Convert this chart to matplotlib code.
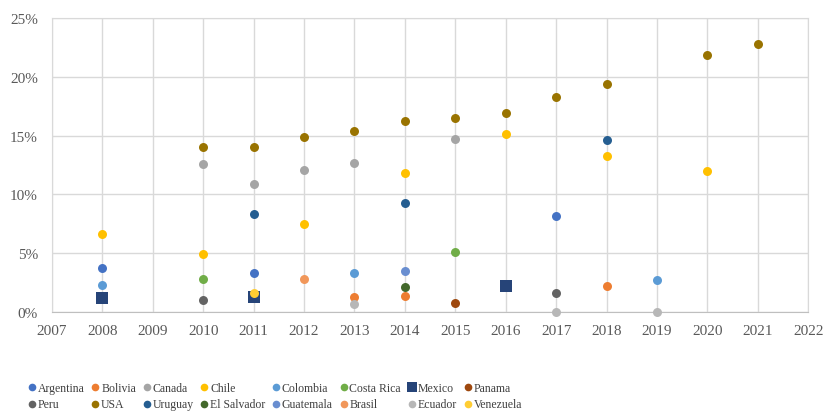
import numpy as np
import matplotlib.pyplot as plt
from matplotlib.ticker import FuncFormatter

plt.rcParams['font.family'] = ['Liberation Serif', 'DejaVu Serif']

# datos por pais: (años, porcentajes)
argentina_x = [2008, 2011, 2017]
argentina_y = [3.7, 3.3, 8.2]
bolivia_x = [2013, 2014, 2018]
bolivia_y = [1.3, 1.4, 2.2]
canada_x = [2010, 2011, 2012, 2013, 2015]
canada_y = [12.6, 10.9, 12.1, 12.7, 14.7]
chile_x = [2008, 2010, 2012, 2014, 2016, 2018, 2020]
chile_y = [6.6, 4.9, 7.45, 11.8, 15.1, 13.3, 12.0]
colombia_x = [2008, 2013, 2019]
colombia_y = [2.3, 3.3, 2.7]
costarica_x = [2010, 2015]
costarica_y = [2.8, 5.1]
mexico_x = [2008, 2011, 2016]
mexico_y = [1.2, 1.3, 2.2]
panama_x = [2015]
panama_y = [0.8]
peru_x = [2010, 2017]
peru_y = [1.0, 1.6]
usa_x = [2010, 2011, 2012, 2013, 2014, 2015, 2016, 2017, 2018, 2020, 2021]
usa_y = [14.0, 14.0, 14.85, 15.4, 16.25, 16.5, 16.9, 18.3, 19.4, 21.85, 22.8]
uruguay_x = [2011, 2014, 2018]
uruguay_y = [8.3, 9.3, 14.6]
salvador_x = [2014]
salvador_y = [2.1]
guatemala_x = [2014]
guatemala_y = [3.5]
brasil_x = [2012]
brasil_y = [2.8]
ecuador_x = [2013, 2017, 2019]
ecuador_y = [0.7, 0.0, 0.0]
venezuela_x = [2011]
venezuela_y = [1.6]

series = [
    ("Argentina", argentina_x, argentina_y, "#4472C4", "o"),
    ("Bolivia", bolivia_x, bolivia_y, "#ED7D31", "o"),
    ("Canada", canada_x, canada_y, "#A5A5A5", "o"),
    ("Chile", chile_x, chile_y, "#FFC000", "o"),
    ("Colombia", colombia_x, colombia_y, "#5B9BD5", "o"),
    ("Costa Rica", costarica_x, costarica_y, "#70AD47", "o"),
    ("Mexico", mexico_x, mexico_y, "#264478", "s"),
    ("Panama", panama_x, panama_y, "#9E480E", "o"),
    ("Peru", peru_x, peru_y, "#636363", "o"),
    ("USA", usa_x, usa_y, "#997300", "o"),
    ("Uruguay", uruguay_x, uruguay_y, "#255E91", "o"),
    ("El Salvador", salvador_x, salvador_y, "#43682B", "o"),
    ("Guatemala", guatemala_x, guatemala_y, "#698ED0", "o"),
    ("Brasil", brasil_x, brasil_y, "#F1975A", "o"),
    ("Ecuador", ecuador_x, ecuador_y, "#B7B7B7", "o"),
    ("Venezuela", venezuela_x, venezuela_y, "#FFCD33", "o"),
]

fig = plt.figure(figsize=(8.24, 4.14), dpi=100)
ax = fig.add_axes([0.063, 0.244, 0.918, 0.71])

handles = []
for nombre, xs, ys, col, mk in series:
    s = 75 if mk == "s" else 42
    h = ax.scatter(xs, ys, s=s, c=col, marker=mk, label=nombre, zorder=3,
                   clip_on=False, linewidths=0)
    handles.append(h)

ax.set_xlim(2007, 2022)
ax.set_ylim(0, 25)
ax.set_xticks(range(2007, 2023))
ax.set_yticks([0, 5, 10, 15, 20, 25])
ax.yaxis.set_major_formatter(FuncFormatter(lambda v, p: "%d%%" % v))
ax.grid(True, color="#D9D9D9", linewidth=1)
ax.set_axisbelow(True)
for sp in ax.spines.values():
    sp.set_color("#D9D9D9")
ax.spines["bottom"].set_color("#BFBFBF")
ax.tick_params(length=0, labelsize=11, colors="#595959")
ax.tick_params(axis="y", pad=10)
ax.tick_params(axis="x", pad=9)

# leyenda en filas (matplotlib llena por columnas)
orden = []
for i in range(8):
    orden += [i, i + 8]
fig.legend([handles[i] for i in orden], [series[i][0] for i in orden],
           loc="lower left", bbox_to_anchor=(0.02, -0.012), ncol=8,
           frameon=False, fontsize=8.5, handletextpad=-0.1,
           columnspacing=0.3, labelspacing=0.35, borderpad=0.2,
           handlelength=1.2, markerscale=0.85, labelcolor="#404040")

fig.savefig("out.png", dpi=100)
